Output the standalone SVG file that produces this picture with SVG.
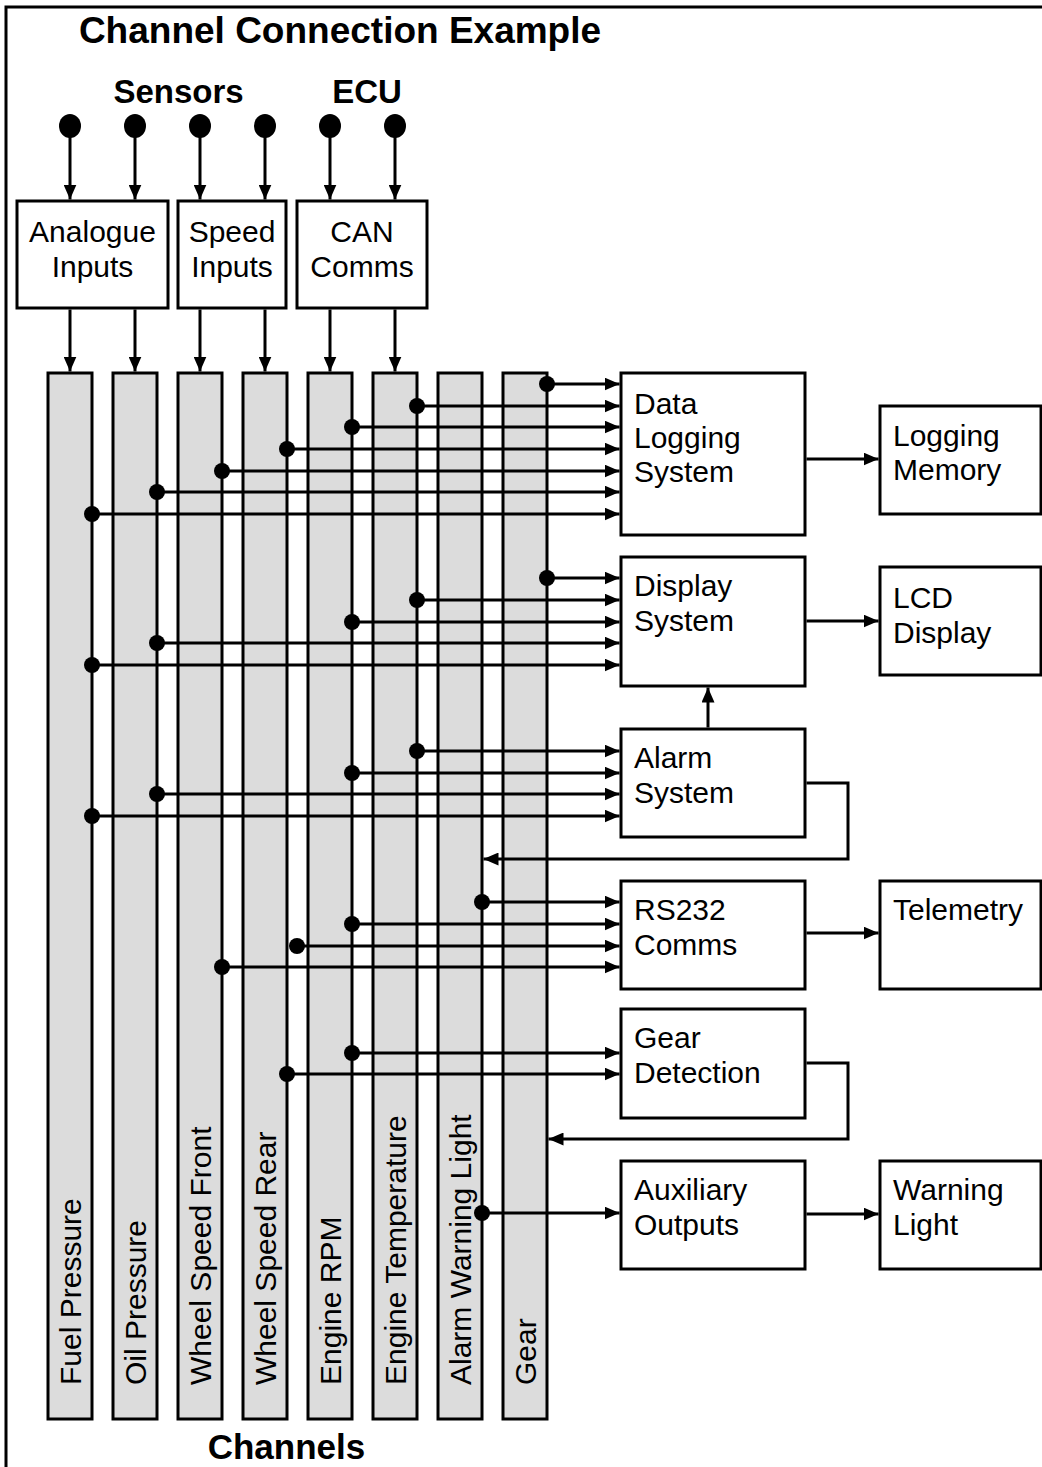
<svg xmlns="http://www.w3.org/2000/svg" width="1042" height="1467" viewBox="0 0 1042 1467">
<style>
text{font-family:"Liberation Sans",Arial,Helvetica,sans-serif;fill:#000}
.t{font-size:30px}
.b{font-weight:bold}
.c{text-anchor:middle}
.box{fill:#fff;stroke:#000;stroke-width:3}
.ch{fill:#dcdcdc;stroke:#000;stroke-width:3}
.w{fill:none;stroke:#000;stroke-width:3}
.d{fill:#000}
</style>
<defs>
<marker id="ah" viewBox="0 0 15 13" refX="15" refY="6.5" markerWidth="15" markerHeight="13" orient="auto" markerUnits="userSpaceOnUse"><path d="M0,0 L15,6.5 L0,13 z" fill="#000"/></marker>
</defs>
<rect width="1042" height="1467" fill="#fff"/>
<path d="M6,1467 V7 H1042" fill="none" stroke="#000" stroke-width="3"/>
<text class="b c" x="340" y="43" font-size="37">Channel Connection Example</text>
<text class="b c" x="178.5" y="103" font-size="33">Sensors</text>
<text class="b c" x="367" y="103" font-size="33">ECU</text>
<text class="b c" x="286.5" y="1459" font-size="35">Channels</text>

<g id="channels">
<g id="ch-fuel"><rect class="ch" x="48" y="373" width="44" height="1046"/><text class="t" transform="translate(81,1385) rotate(-90)">Fuel Pressure</text></g>
<g id="ch-oil"><rect class="ch" x="113" y="373" width="44" height="1046"/><text class="t" transform="translate(146,1385) rotate(-90)">Oil Pressure</text></g>
<g id="ch-wsf"><rect class="ch" x="178" y="373" width="44" height="1046"/><text class="t" transform="translate(211,1385) rotate(-90)">Wheel Speed Front</text></g>
<g id="ch-wsr"><rect class="ch" x="243" y="373" width="44" height="1046"/><text class="t" transform="translate(276,1385) rotate(-90)">Wheel Speed Rear</text></g>
<g id="ch-rpm"><rect class="ch" x="308" y="373" width="44" height="1046"/><text class="t" transform="translate(341,1385) rotate(-90)">Engine RPM</text></g>
<g id="ch-temp"><rect class="ch" x="373" y="373" width="44" height="1046"/><text class="t" transform="translate(406,1385) rotate(-90)">Engine Temperature</text></g>
<g id="ch-awl"><rect class="ch" x="438" y="373" width="44" height="1046"/><text class="t" transform="translate(471,1385) rotate(-90)">Alarm Warning Light</text></g>
<g id="ch-gear"><rect class="ch" x="503" y="373" width="44" height="1046"/><text class="t" transform="translate(536,1385) rotate(-90)">Gear</text></g>
</g>

<g id="sensors">
<ellipse class="d" cx="70" cy="126" rx="11" ry="12"/>
<ellipse class="d" cx="135" cy="126" rx="11" ry="12"/>
<ellipse class="d" cx="200" cy="126" rx="11" ry="12"/>
<ellipse class="d" cx="265" cy="126" rx="11" ry="12"/>
<ellipse class="d" cx="330" cy="126" rx="11" ry="12"/>
<ellipse class="d" cx="395" cy="126" rx="11" ry="12"/>
</g>

<g id="analogue-inputs"><rect class="box" x="17" y="201" width="151" height="107"/><text class="t c" x="92.5" y="242">Analogue</text><text class="t c" x="92.5" y="277">Inputs</text></g>
<g id="speed-inputs"><rect class="box" x="178" y="201" width="108" height="107"/><text class="t c" x="232" y="242">Speed</text><text class="t c" x="232" y="277">Inputs</text></g>
<g id="can-comms"><rect class="box" x="297" y="201" width="130" height="107"/><text class="t c" x="362" y="242">CAN</text><text class="t c" x="362" y="277">Comms</text></g>

<g id="data-logging"><rect class="box" x="621" y="373" width="184" height="162"/><text class="t" x="634" y="414">Data</text><text class="t" x="634" y="448">Logging</text><text class="t" x="634" y="482">System</text></g>
<g id="display-system"><rect class="box" x="621" y="557" width="184" height="129"/><text class="t" x="634" y="596">Display</text><text class="t" x="634" y="631">System</text></g>
<g id="alarm-system"><rect class="box" x="621" y="729" width="184" height="108"/><text class="t" x="634" y="768">Alarm</text><text class="t" x="634" y="803">System</text></g>
<g id="rs232-comms"><rect class="box" x="621" y="881" width="184" height="108"/><text class="t" x="634" y="920">RS232</text><text class="t" x="634" y="955">Comms</text></g>
<g id="gear-detection"><rect class="box" x="621" y="1009" width="184" height="109"/><text class="t" x="634" y="1048">Gear</text><text class="t" x="634" y="1083">Detection</text></g>
<g id="auxiliary-outputs"><rect class="box" x="621" y="1161" width="184" height="108"/><text class="t" x="634" y="1200">Auxiliary</text><text class="t" x="634" y="1235">Outputs</text></g>

<g id="logging-memory"><rect class="box" x="880" y="406" width="161" height="108"/><text class="t" x="893" y="446">Logging</text><text class="t" x="893" y="480">Memory</text></g>
<g id="lcd-display"><rect class="box" x="880" y="567" width="161" height="108"/><text class="t" x="893" y="608">LCD</text><text class="t" x="893" y="643">Display</text></g>
<g id="telemetry"><rect class="box" x="880" y="881" width="161" height="108"/><text class="t" x="893" y="920">Telemetry</text></g>
<g id="warning-light"><rect class="box" x="880" y="1161" width="161" height="108"/><text class="t" x="893" y="1200">Warning</text><text class="t" x="893" y="1235">Light</text></g>

<g id="connectors">
<g class="w" marker-end="url(#ah)">
<path d="M70,137 V199.5"/><path d="M135,137 V199.5"/><path d="M200,137 V199.5"/><path d="M265,137 V199.5"/><path d="M330,137 V199.5"/><path d="M395,137 V199.5"/>
<path d="M70,309.5 V371.5"/><path d="M135,309.5 V371.5"/><path d="M200,309.5 V371.5"/><path d="M265,309.5 V371.5"/><path d="M330,309.5 V371.5"/><path d="M395,309.5 V371.5"/>

<path d="M547,384 H619.5"/><path d="M417,406 H619.5"/><path d="M352,427 H619.5"/><path d="M287,449 H619.5"/><path d="M222,471 H619.5"/><path d="M157,492 H619.5"/><path d="M92,514 H619.5"/>
<path d="M547,578 H619.5"/><path d="M417,600 H619.5"/><path d="M352,622 H619.5"/><path d="M157,643 H619.5"/><path d="M92,665 H619.5"/>
<path d="M417,751 H619.5"/><path d="M352,773 H619.5"/><path d="M157,794 H619.5"/><path d="M92,816 H619.5"/>
<path d="M482,902 H619.5"/><path d="M352,924 H619.5"/><path d="M297,946 H619.5"/><path d="M222,967 H619.5"/>
<path d="M352,1053 H619.5"/><path d="M287,1074 H619.5"/>
<path d="M482,1213 H619.5"/>

<path d="M806.5,459 H878.5"/><path d="M806.5,621 H878.5"/><path d="M806.5,933 H878.5"/><path d="M806.5,1214 H878.5"/>
<path d="M708,727.5 V687.5"/>
<path d="M806.5,783 H848 V859 H483.5"/>
<path d="M806.5,1063 H848 V1139 H548.5"/>
</g>
<g class="d">
<circle cx="547" cy="384" r="8"/><circle cx="417" cy="406" r="8"/><circle cx="352" cy="427" r="8"/><circle cx="287" cy="449" r="8"/><circle cx="222" cy="471" r="8"/><circle cx="157" cy="492" r="8"/><circle cx="92" cy="514" r="8"/>
<circle cx="547" cy="578" r="8"/><circle cx="417" cy="600" r="8"/><circle cx="352" cy="622" r="8"/><circle cx="157" cy="643" r="8"/><circle cx="92" cy="665" r="8"/>
<circle cx="417" cy="751" r="8"/><circle cx="352" cy="773" r="8"/><circle cx="157" cy="794" r="8"/><circle cx="92" cy="816" r="8"/>
<circle cx="482" cy="902" r="8"/><circle cx="352" cy="924" r="8"/><circle cx="297" cy="946" r="8"/><circle cx="222" cy="967" r="8"/>
<circle cx="352" cy="1053" r="8"/><circle cx="287" cy="1074" r="8"/>
<circle cx="482" cy="1213" r="8"/>
</g>
</g>
</svg>
